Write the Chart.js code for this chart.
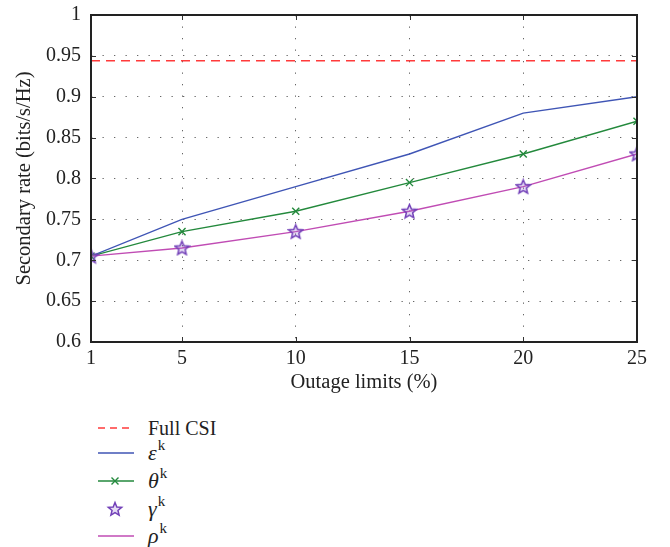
<!DOCTYPE html>
<html><head><meta charset="utf-8">
<script src="https://cdn.jsdelivr.net/npm/chart.js@4"></script>
<style>
body{margin:0;background:#fff;width:670px;height:547px;overflow:hidden;position:relative;font-family:"Liberation Serif","DejaVu Serif",serif;color:#222;}
#wrap{position:absolute;left:0;top:0;width:670px;height:400px;}
.row{position:absolute;left:97px;height:26px;display:flex;align-items:center;font-size:20px;white-space:nowrap;}
.row svg{width:38px;height:26px;margin-right:13px;flex:none;}
.g{font-style:italic;font-size:22px;}
.k{font-size:15px;position:relative;top:-10px;margin-left:1px;}
</style>
</head><body>
<div id="wrap"><canvas id="c" width="670" height="400"></canvas></div>
<div id="legend"></div>
<script>
const xValues = [1, 5, 10, 15, 20, 25];
const xTickValues = [1, 5, 10, 15, 20, 25];
const yTickValues = [0.6, 0.65, 0.7, 0.75, 0.8, 0.85, 0.9, 0.95, 1];
const fullCSI = [0.944, 0.944, 0.944, 0.944, 0.944, 0.944];
const epsilonK = [0.705, 0.75, 0.79, 0.83, 0.88, 0.90];
const thetaK = [0.705, 0.735, 0.76, 0.795, 0.83, 0.87];
const gammaK = [0.705, 0.715, 0.735, 0.76, 0.79, 0.83];
const rhoK = [0.705, 0.715, 0.735, 0.76, 0.79, 0.83];
const seriesNames = ['Full CSI', 'ε', 'θ', 'γ', 'ρ'];

const RED = '#ff3b3b', BLUE = '#3f55b5', GREEN = '#23893c', MAG = '#c04cb4', PURP = '#7240b8';

function starCanvas(size, color) {
  const c = document.createElement('canvas');
  c.width = size; c.height = size;
  const ctx = c.getContext('2d');
  const cx = size / 2, cy = size / 2 + 0.5, ro = size / 2 - 1.2, ri = ro * 0.45;
  ctx.beginPath();
  for (let i = 0; i < 10; i++) {
    const r = i % 2 === 0 ? ro : ri;
    const a = -Math.PI / 2 + i * Math.PI / 5;
    const px = cx + r * Math.cos(a), py = cy + r * Math.sin(a);
    if (i === 0) ctx.moveTo(px, py); else ctx.lineTo(px, py);
  }
  ctx.closePath();
  ctx.fillStyle = 'rgba(150,110,210,0.25)';
  ctx.fill();
  ctx.strokeStyle = color; ctx.lineWidth = 1.5; ctx.stroke();
  return c;
}
const star = starCanvas(17, PURP);

const pts = arr => xValues.map((x, i) => ({x: x, y: arr[i]}));

const frame = {
  id: 'frame',
  afterDraw(chart) {
    const {ctx, chartArea: a, scales} = chart;
    ctx.save();
    ctx.strokeStyle = '#333'; ctx.lineWidth = 1;
    const tl = 5;
    ctx.beginPath();
    xTickValues.forEach(v => {
      const px = Math.round(scales.x.getPixelForValue(v)) + 0.5;
      ctx.moveTo(px, a.bottom); ctx.lineTo(px, a.bottom - tl);
      ctx.moveTo(px, a.top); ctx.lineTo(px, a.top + tl);
    });
    yTickValues.forEach(v => {
      const py = Math.round(scales.y.getPixelForValue(v)) + 0.5;
      ctx.moveTo(a.left, py); ctx.lineTo(a.left + tl, py);
      ctx.moveTo(a.right, py); ctx.lineTo(a.right - tl, py);
    });
    ctx.stroke();
    ctx.strokeStyle = '#222'; ctx.lineWidth = 2;
    ctx.strokeRect(a.left, a.top, a.right - a.left, a.bottom - a.top);
    ctx.restore();
  }
};

new Chart(document.getElementById('c'), {
  type: 'line',
  data: {
    datasets: [
      {label: seriesNames[0], data: pts(fullCSI), borderColor: RED, borderWidth: 1.5, borderDash: [9, 6], pointRadius: 0, order: 5},
      {label: seriesNames[1], data: pts(epsilonK), borderColor: BLUE, borderWidth: 1.4, pointRadius: 0, order: 4},
      {label: seriesNames[2], data: pts(thetaK), borderColor: GREEN, borderWidth: 1.4, pointStyle: 'crossRot', pointRadius: 5, pointBorderColor: GREEN, pointBorderWidth: 1.4, order: 3},
      {label: seriesNames[4], data: pts(rhoK), borderColor: MAG, borderWidth: 1.4, pointRadius: 0, order: 2},
      {label: seriesNames[3], data: pts(gammaK), showLine: false, pointStyle: star, pointRadius: 8, order: 1}
    ]
  },
  options: {
    responsive: false,
    animation: false,
    events: [],
    layout: {padding: {top: 15, right: 33, left: 0, bottom: 0}},
    plugins: {legend: {display: false}, tooltip: {enabled: false}},
    scales: {
      x: {
        type: 'linear', min: 1, max: 25,
        afterBuildTicks: s => { s.ticks = xTickValues.map(v => ({value: v})); },
        afterFit: s => { s.height = 58; s.paddingLeft = 0; s.paddingRight = 0; },
        grid: {color: '#666', lineWidth: 1, drawTicks: false},
        border: {display: false, dash: [1.3, 10.2]},
        ticks: {padding: 5, color: '#222', font: {family: 'Liberation Serif', size: 20}, maxRotation: 0, callback: v => String(v)},
        title: {display: true, text: 'Outage limits (%)', color: '#222', font: {family: 'Liberation Serif', size: 20.5}, padding: {top: 0, bottom: 5}}
      },
      y: {
        min: 0.6, max: 1,
        afterBuildTicks: s => { s.ticks = yTickValues.map(v => ({value: v})); },
        afterFit: s => { s.width = 91; s.paddingTop = 0; s.paddingBottom = 0; },
        grid: {color: '#666', lineWidth: 1, drawTicks: false},
        border: {display: false, dash: [1.3, 10.2]},
        ticks: {padding: 10, color: '#222', font: {family: 'Liberation Serif', size: 20}, callback: v => String(Number(v.toFixed(2)))},
        title: {display: true, text: 'Secondary rate (bits/s/Hz)', color: '#222', font: {family: 'Liberation Serif', size: 20.5}, padding: {top: 12, bottom: 12}}
      }
    }
  },
  plugins: [frame]
});

// HTML legend
const legendRows = [
  {name: seriesNames[0], sup: false, y: 428, svg: `<line x1="1" y1="13" x2="37" y2="13" stroke="${RED}" stroke-width="1.5" stroke-dasharray="7,5"/>`},
  {name: seriesNames[1], sup: true, y: 453, svg: `<line x1="1" y1="13" x2="37" y2="13" stroke="${BLUE}" stroke-width="1.4"/>`},
  {name: seriesNames[2], sup: true, y: 481, svg: `<line x1="1" y1="13" x2="37" y2="13" stroke="${GREEN}" stroke-width="1.4"/><path d="M14.5 9.5 L21.5 16.5 M21.5 9.5 L14.5 16.5" stroke="${GREEN}" stroke-width="1.4"/>`},
  {name: seriesNames[3], sup: true, y: 509, svg: `<polygon points="${(() => { const p = []; for (let i = 0; i < 10; i++) { const r = i % 2 ? 3.1 : 7; const a = -Math.PI/2 + i*Math.PI/5; p.push((18 + r*Math.cos(a)).toFixed(2) + ',' + (13.5 + r*Math.sin(a)).toFixed(2)); } return p.join(' '); })()}" fill="rgba(150,110,210,0.25)" stroke="${PURP}" stroke-width="1.5"/>`},
  {name: seriesNames[4], sup: true, y: 536, svg: `<line x1="1" y1="13" x2="37" y2="13" stroke="${MAG}" stroke-width="1.4"/>`}
];
const lg = document.getElementById('legend');
legendRows.forEach(r => {
  const d = document.createElement('div');
  d.className = 'row';
  d.style.top = (r.y - 13) + 'px';
  d.innerHTML = `<svg viewBox="0 0 38 26">${r.svg}</svg>` +
    (r.sup ? `<span><span class="g">${r.name}</span><span class="k">k</span></span>` : `<span>${r.name}</span>`);
  lg.appendChild(d);
});
</script>
</body></html>
